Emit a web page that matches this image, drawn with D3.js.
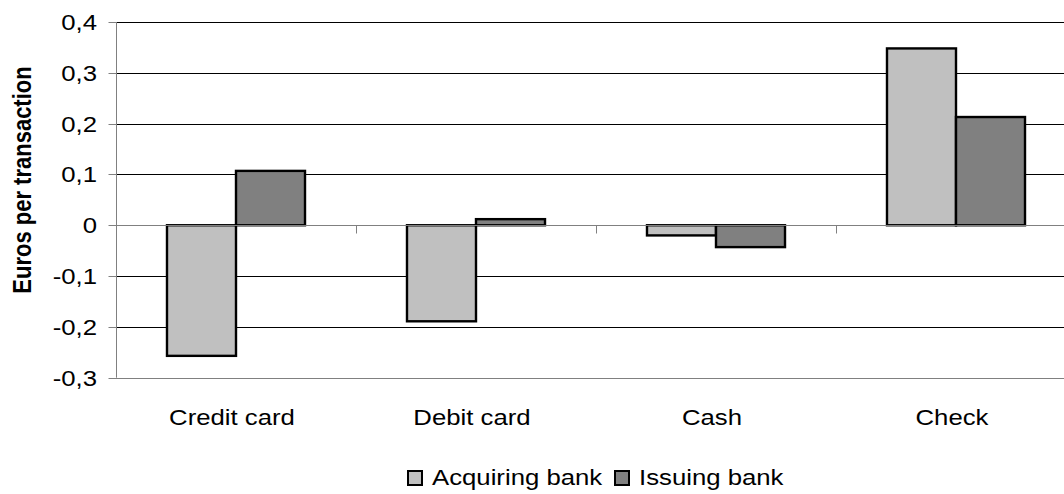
<!DOCTYPE html>
<html>
<head>
<meta charset="utf-8">
<script src="https://cdn.jsdelivr.net/npm/d3@7"></script>
<style>
html,body{margin:0;padding:0;background:#fff;}
svg{display:block;font-family:"Liberation Sans",Arial,sans-serif;}
</style>
</head>
<body>
<svg id="chart" width="1064" height="494"></svg>
<script>
const categories = ["Credit card", "Debit card", "Cash", "Check"];
const seriesNames = ["Acquiring bank", "Issuing bank"];
const acquiring = [-0.257, -0.189, -0.020, 0.348];
const issuing = [0.107, 0.012, -0.043, 0.213];
const yTicks = [-0.3, -0.2, -0.1, 0, 0.1, 0.2, 0.3, 0.4];
const colors = ["#c0c0c0", "#808080"];
const yLabel = "Euros per transaction";

const values = [acquiring, issuing];
const SX = 1.17; // horizontal text stretch of the source image
const svg = d3.select("#chart");
const pLeft = 116, pRight = 1076, pTop = 22, pBottom = 377.7;

const x = d3.scaleBand().domain(categories).range([pLeft, pRight]).padding(0);
const x1 = d3.scaleBand().domain(seriesNames).range([0, x.bandwidth()]).paddingInner(0).paddingOuter(0.739);
const y = d3.scaleLinear().domain([-0.3, 0.4]).range([pBottom, pTop]);

// gridlines
svg.append("g").selectAll("line").data(yTicks.filter(d => d !== 0 && d !== -0.3)).join("line")
  .attr("x1", pLeft).attr("x2", pRight)
  .attr("y1", d => Math.round(y(d)) + 0.5).attr("y2", d => Math.round(y(d)) + 0.5)
  .attr("stroke", "#000").attr("stroke-width", 1);

// bottom frame line
svg.append("line").attr("x1", pLeft).attr("x2", pRight)
  .attr("y1", Math.round(y(-0.3)) + 0.5).attr("y2", Math.round(y(-0.3)) + 0.5)
  .attr("stroke", "#808080");

// y axis
const yAxis = svg.append("g").attr("transform", `translate(${pLeft + 0.5},0)`)
  .call(d3.axisLeft(y).tickValues(yTicks).tickSize(8).tickSizeOuter(0)
    .tickFormat(d => Math.abs(d) < 1e-9 ? "0" : d3.format(".1f")(d).replace(".", ",").replace("−", "-")));
yAxis.select(".domain").attr("stroke", "#808080").attr("d", `M0,${pTop}V${pBottom}`);
yAxis.selectAll(".tick line").attr("stroke", "#808080");
yAxis.selectAll(".tick text")
  .attr("font-size", 22).attr("fill", "#000")
  .attr("x", -19.5 / SX).attr("dy", "0.36em")
  .attr("transform", `scale(${SX},1)`)
  .attr("font-family", "'Liberation Sans',Arial,sans-serif");
yAxis.selectAll(".tick").attr("transform", d => `translate(0,${Math.round(y(d)) + 0.5})`);

// bars
const g = svg.append("g");
categories.forEach((c, i) => {
  seriesNames.forEach((s, j) => {
    const v = values[j][i];
    g.append("rect")
      .attr("x", x(c) + x1(s))
      .attr("y", y(Math.max(0, v)))
      .attr("width", x1.bandwidth())
      .attr("height", Math.abs(y(v) - y(0)))
      .attr("fill", colors[j])
      .attr("stroke", "#000").attr("stroke-width", 2.4);
  });
});

// zero line
const y0 = Math.round(y(0)) + 0.5;
svg.append("line").attr("x1", pLeft).attr("x2", pRight).attr("y1", y0).attr("y2", y0)
  .attr("stroke", "#808080");
// category boundary ticks
svg.append("g").selectAll("line").data(categories.slice(1)).join("line")
  .attr("x1", d => Math.round(x(d)) + 0.5).attr("x2", d => Math.round(x(d)) + 0.5)
  .attr("y1", y0).attr("y2", y0 + 8).attr("stroke", "#808080");

// category labels via bottom axis
const xAxis = svg.append("g").attr("transform", `translate(-4,425)`)
  .call(d3.axisBottom(x).tickSize(0).tickPadding(0));
xAxis.select(".domain").remove();
xAxis.selectAll(".tick text").attr("font-size", 22).attr("fill", "#000")
  .attr("y", 0).attr("dy", 0).attr("transform", `scale(${SX},1)`)
  .attr("font-family", "'Liberation Sans',Arial,sans-serif");
xAxis.selectAll(".tick").attr("transform", d => `translate(${x(d) + x.bandwidth() / 2},0)`);

// y label
svg.append("text")
  .attr("transform", `translate(31,180) rotate(-90) scale(1,${SX})`)
  .attr("text-anchor", "middle").attr("font-size", 22).attr("font-weight", "bold")
  .text(yLabel);

// legend
const legendX = [408, 615];
const lg = svg.append("g");
seriesNames.forEach((s, j) => {
  lg.append("rect").attr("x", legendX[j]).attr("y", 471).attr("width", 14).attr("height", 14)
    .attr("fill", colors[j]).attr("stroke", "#000").attr("stroke-width", 2);
  lg.append("text").attr("transform", `translate(${legendX[j] + 24},485) scale(${SX},1)`)
    .attr("font-size", 22).text(s);
});
</script>
</body>
</html>
